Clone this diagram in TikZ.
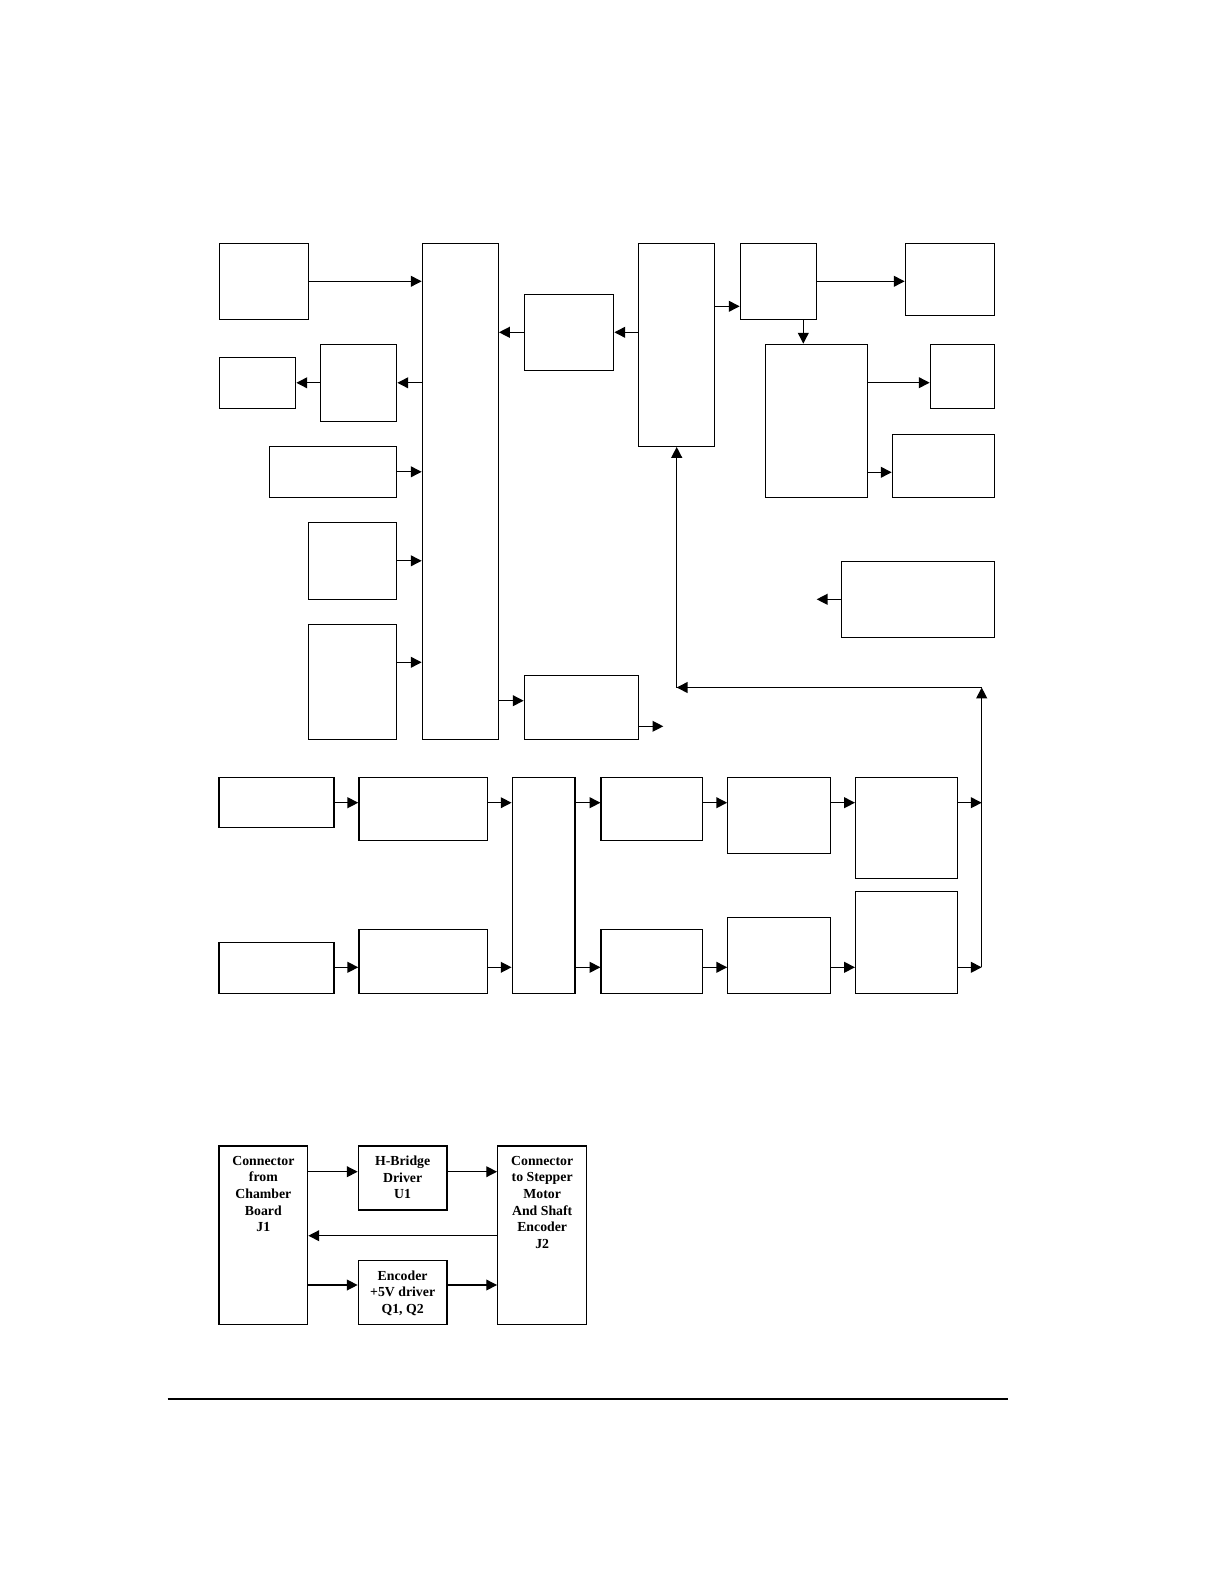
\documentclass[tikz,border=0pt]{standalone}
\usepackage{fontspec}
\setmainfont{Liberation Serif}
\usetikzlibrary{arrows.meta,positioning,calc,fit}

\begin{document}
\begin{tikzpicture}[x=0.5bp, y=-0.5bp, line width=0.65bp,
  >={Triangle[length=5.4bp,width=5.4bp]},
  blk/.style={draw, inner sep=0pt},
  txt/.style={font=\fontsize{6.9bp}{8.33bp}\selectfont\bfseries, align=center,
    anchor=north, inner sep=5bp}]
  \useasboundingbox (0,0) rectangle (1224,1584);

  % upper block diagram
  \node[blk, fit={(219.3,243.3) (308.7,319.3)}] (a) {};
  \node[blk, fit={(422.3,243.3) (498.3,739.3)}] (bus) {};
  \node[blk, fit={(219.3,357.3) (295.7,408.3)}] (b) {};
  \node[blk, fit={(320.3,344.3) (396.7,421.3)}] (c) {};
  \node[blk, fit={(269.3,446.3) (396.7,497.3)}] (d) {};
  \node[blk, fit={(308.3,522.3) (396.7,599.3)}] (e) {};
  \node[blk, fit={(308.3,624.3) (396.7,739.3)}] (f) {};
  \node[blk, fit={(524.3,294.3) (613.7,370.3)}] (g) {};
  \node[blk, fit={(638.3,243.3) (714.3,446.3)}] (h) {};
  \node[blk, fit={(524.3,675.3) (638.3,739.3)}] (i) {};
  \node[blk, fit={(740.3,243.3) (816.7,319.3)}] (j) {};
  \node[blk, fit={(905.3,243.3) (994.7,315.3)}] (k) {};
  \node[blk, fit={(765.3,344.3) (867.3,497.3)}] (l) {};
  \node[blk, fit={(930.3,344.3) (994.7,408.3)}] (m) {};
  \node[blk, fit={(892.3,434.3) (994.7,497.3)}] (n) {};
  \node[blk, fit={(841.3,561.3) (994.7,637.3)}] (o) {};

  \coordinate (lvf) at (0,662.3);
  \coordinate (lvi) at (0,700.7);
  \coordinate (lvj) at (0,306.3);
  \coordinate (lvm) at (0,382.7);
  \coordinate (lvn) at (0,472.3);
  \coordinate (lx) at (803.3,0);
  \coordinate (iout) at (663.3,726.3);
  \coordinate (oout) at (816.7,599.3);

  \draw[->] (a) -- (a -| bus.west);
  \draw[->] (c -| bus.west) -- (c.east);
  \draw[->] (c.west) -- (b.east);
  \draw[->] (d) -- (d -| bus.west);
  \draw[->] (e) -- (e -| bus.west);
  \draw[->] (f.east |- lvf) -- (bus.west |- lvf);
  \draw[->] (g.west) -- (g -| bus.east);
  \draw[->] (g -| h.west) -- (g.east);
  \draw[->] (bus.east |- lvi) -- (i.west |- lvi);
  \draw[->] (i.east |- iout) -- (iout);
  \draw[->] (h.east |- lvj) -- (j.west |- lvj);
  \draw[->] (j) -- (j -| k.west);
  \draw[->] (j.south -| lx) -- (l.north -| lx);
  \draw[->] (l.east |- lvm) -- (m.west |- lvm);
  \draw[->] (l.east |- lvn) -- (n.west |- lvn);
  \draw[->] (o) -- (oout);

  % lower chain
  \node[blk, fit={(218.9,777.3) (333.9,827.3)}] (p1) {};
  \node[blk, fit={(358.9,777.3) (487.2,840.3)}] (p2) {};
  \node[blk, fit={(512.2,777.3) (575.1,993.3)}] (q) {};
  \node[blk, fit={(601.1,777.3) (702.3,840.3)}] (r1) {};
  \node[blk, fit={(727.8,777.3) (830.6,853.3)}] (s1) {};
  \node[blk, fit={(855.6,777.3) (957.8,878.3)}] (t1) {};
  \node[blk, fit={(218.9,942.3) (333.9,993.3)}] (p3) {};
  \node[blk, fit={(358.9,929.3) (487.2,993.3)}] (p4) {};
  \node[blk, fit={(601.1,929.3) (702.3,993.3)}] (r2) {};
  \node[blk, fit={(727.8,917.3) (830.6,993.3)}] (s2) {};
  \node[blk, fit={(855.6,891.3) (957.8,993.3)}] (t2) {};

  \coordinate (row1) at (0,802.7);
  \coordinate (row2) at (0,967.3);
  \coordinate (fbb) at (981.7,967.3);
  \coordinate (fbt) at (981.7,687.5);
  \coordinate (fbc) at (676.7,687.5);

  \draw[->] (p1.east |- row1) -- (p2.west |- row1);
  \draw[->] (p2.east |- row1) -- (q.west |- row1);
  \draw[->] (q.east |- row1) -- (r1.west |- row1);
  \draw[->] (r1.east |- row1) -- (s1.west |- row1);
  \draw[->] (s1.east |- row1) -- (t1.west |- row1);
  \draw[->] (t1.east |- row1) -- (fbb |- row1);
  \draw[->] (p3.east |- row2) -- (p4.west |- row2);
  \draw[->] (p4.east |- row2) -- (q.west |- row2);
  \draw[->] (q.east |- row2) -- (r2.west |- row2);
  \draw[->] (r2.east |- row2) -- (s2.west |- row2);
  \draw[->] (s2.east |- row2) -- (t2.west |- row2);
  \draw[->] (t2.east |- row2) -- (fbb);
  % feedback to upper block
  \draw[->] (fbb) -- (fbt);
  \draw[->] (fbt) -- (fbc);
  \draw[->] (fbc) -- (fbc |- h.south);

  % motor board
  \node[blk, fit={(219,1146) (307.7,1324.3)},
    label={[txt]north:Connector\\from\\Chamber\\Board\\J1}] (j1) {};
  \node[blk, fit={(358.3,1146) (447,1210)},
    label={[txt]north:H-Bridge\\Driver\\U1}] (hb) {};
  \node[blk, fit={(497.7,1146) (586.7,1324.3)},
    label={[txt]north:Connector\\to Stepper\\Motor\\And Shaft\\Encoder\\J2}] (j2) {};
  \node[blk, fit={(358.3,1260.7) (447,1324.3)},
    label={[txt]north:Encoder\\+5V driver\\Q1, Q2}] (en) {};

  \coordinate (lv1) at (0,1171.7);
  \coordinate (lv2) at (0,1235.7);
  \coordinate (lv3) at (0,1285);
  \draw[->] (j1.east |- lv1) -- (hb.west |- lv1);
  \draw[->] (hb.east |- lv1) -- (j2.west |- lv1);
  \draw[->] (j2.west |- lv2) -- (j1.east |- lv2);
  \draw[->] (j1.east |- lv3) -- (en.west |- lv3);
  \draw[->] (en.east |- lv3) -- (j2.west |- lv3);

  \draw (167.6,1399) -- (1008,1399);
\end{tikzpicture}
\end{document}
